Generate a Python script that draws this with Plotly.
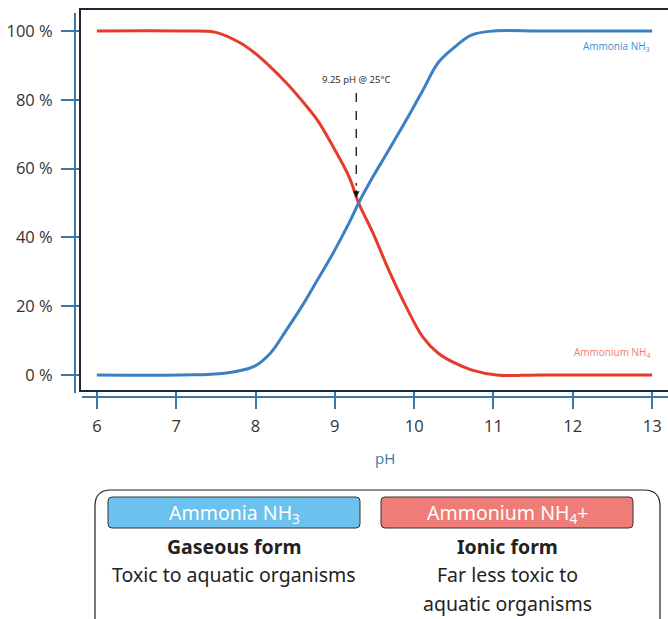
import plotly.graph_objects as go

# ---- data ----
ph_ammonia = [6.0, 7.05, 7.61, 7.99, 8.19, 8.39, 8.58, 8.78, 8.98, 9.18, 9.30, 9.48, 9.68, 9.90, 10.11, 10.30, 10.51, 10.72, 11.0, 11.6, 13.0]
ammonia_pct = [0.0, 0.0, 0.5, 2.6, 6.4, 13.1, 19.8, 27.6, 35.5, 44.2, 50.0, 57.6, 65.4, 74.1, 82.8, 90.7, 95.3, 98.8, 100.0, 100.0, 100.0]

ph_ammonium = [6.0, 7.05, 7.5, 7.81, 7.99, 8.19, 8.39, 8.58, 8.78, 8.98, 9.18, 9.30, 9.48, 9.68, 9.90, 10.11, 10.30, 10.51, 10.72, 11.04, 11.6, 13.0]
ammonium_pct = [100.0, 100.0, 99.6, 96.5, 93.6, 89.5, 84.9, 79.9, 74.1, 66.3, 57.6, 50.0, 41.3, 30.5, 19.8, 11.0, 6.4, 3.5, 1.5, 0.0, 0.0, 0.0]

x_ticks = [6, 7, 8, 9, 10, 11, 12, 13]
y_ticks = [0, 20, 40, 60, 80, 100]
y_tick_labels = ["0 %", "20 %", "40 %", "60 %", "80 %", "100 %"]
pka_ph = 9.27
pka_label = "9.25 pH @ 25°C"

# ---- layout helpers (pixel -> paper) ----
W, H = 668, 619
L, R, T, B = 81, 0, 10, 229
PW = W - L - R
PH = H - T - B


def px(x):
    return (x - L) / PW


def py(y):
    return (H - B - y) / PH


def rrect(x0, y0, x1, y1, r):
    rx, ry = r / PW, r / PH
    X0, X1 = px(x0), px(x1)
    Y0, Y1 = py(y0), py(y1)  # Y0 top (larger), Y1 bottom
    return (f"M {X0+rx},{Y0} L {X1-rx},{Y0} Q {X1},{Y0} {X1},{Y0-ry} "
            f"L {X1},{Y1+ry} Q {X1},{Y1} {X1-rx},{Y1} "
            f"L {X0+rx},{Y1} Q {X0},{Y1} {X0},{Y1+ry} "
            f"L {X0},{Y0-ry} Q {X0},{Y0} {X0+rx},{Y0} Z")


BLUE = "#3a80c2"
RED = "#e63b2a"
STEEL = "#3b78a6"
FRAME = "#1d2a36"
FONT_BOX = "Noto Sans"

fig = go.Figure()
fig.add_trace(go.Scatter(x=ph_ammonium, y=ammonium_pct, mode="lines",
                         line=dict(color=RED, width=3, shape="spline", smoothing=1.0),
                         hoverinfo="skip", showlegend=False))
fig.add_trace(go.Scatter(x=ph_ammonia, y=ammonia_pct, mode="lines",
                         line=dict(color=BLUE, width=3, shape="spline", smoothing=1.0),
                         hoverinfo="skip", showlegend=False))

shapes = [
    # offset axis lines
    dict(type="line", xref="paper", yref="paper", x0=px(82), x1=1.0, y0=py(397), y1=py(397),
         line=dict(color=STEEL, width=2)),
    dict(type="line", xref="paper", yref="paper", x0=px(75), x1=px(75), y0=py(393), y1=py(13),
         line=dict(color=STEEL, width=2)),
    # dashed pointer
    dict(type="line", xref="x", yref="y", x0=pka_ph, x1=pka_ph, y0=82, y1=55,
         line=dict(color="#111111", width=1.3, dash="dash")),
    # info box
    dict(type="path", xref="paper", yref="paper", path=rrect(95, 490, 660, 640, 16),
         line=dict(color="#222222", width=1.2), fillcolor="rgba(0,0,0,0)"),
    dict(type="path", xref="paper", yref="paper", path=rrect(108, 497, 360, 528, 4),
         line=dict(color="#333333", width=1), fillcolor="#6cc2ee"),
    dict(type="path", xref="paper", yref="paper", path=rrect(381, 497, 633, 528, 4),
         line=dict(color="#333333", width=1), fillcolor="#f07c78"),
]


def box_text(x, y, text, size=19.5, color="#222222"):
    return dict(x=px(x), y=py(y), xref="paper", yref="paper", text=text, showarrow=False,
                xanchor="center", yanchor="middle",
                font=dict(size=size, color=color, family=FONT_BOX))


ann = [
    dict(x=pka_ph, y=86, xref="x", yref="y", text=pka_label, showarrow=False,
         xanchor="center", yanchor="middle",
         font=dict(size=9.5, color="#222222"), bgcolor="white"),
    dict(x=pka_ph, y=51.5, xref="x", yref="y", text="", showarrow=True, ax=0, ay=-9,
         arrowhead=2, arrowsize=1, arrowwidth=1.3, arrowcolor="#111111"),
    dict(x=13.0, y=95.6, xref="x", yref="y", text="Ammonia NH<sub>3</sub>", showarrow=False,
         xanchor="right", yanchor="middle", font=dict(size=10, color="#3b8fd0")),
    dict(x=13.0, y=6.4, xref="x", yref="y", text="Ammonium NH<sub>4</sub>", showarrow=False,
         xanchor="right", yanchor="middle", font=dict(size=10, color="#f2796c")),
    dict(x=px(385), y=py(458), xref="paper", yref="paper", text="pH", showarrow=False,
         xanchor="center", yanchor="middle", font=dict(size=15, color=STEEL)),
    box_text(234, 513, "Ammonia NH<sub>3</sub>", color="white"),
    box_text(507, 513, "Ammonium NH<sub>4</sub>+", color="white"),
    box_text(234, 546, "<b>Gaseous form</b>"),
    box_text(234, 574, "Toxic to aquatic organisms"),
    box_text(507, 546, "<b>Ionic form</b>"),
    box_text(507, 574, "Far less toxic to"),
    box_text(507, 603, "aquatic organisms"),
]

fig.update_layout(
    width=W, height=H, autosize=False,
    margin=dict(l=L, r=R, t=T, b=B, autoexpand=False),
    paper_bgcolor="white", plot_bgcolor="white",
    font=dict(family="Open Sans", color="#333333"),
    shapes=shapes, annotations=ann, showlegend=False,
)
fig.update_xaxes(range=[5.8, 13.2], tickvals=x_ticks, showgrid=False, zeroline=False,
                 showline=True, linecolor=FRAME, linewidth=2, mirror=True, automargin=False,
                 ticks="outside", ticklen=17, tickwidth=2, tickcolor=STEEL,
                 tickfont=dict(size=16.5, color="#333333"), ticklabelstandoff=3)
fig.update_yaxes(range=[-4.36, 106.1], tickvals=y_ticks, ticktext=y_tick_labels, showgrid=False,
                 zeroline=False, showline=True, linecolor=FRAME, linewidth=2, automargin=False,
                 ticks="outside", ticklen=18, tickwidth=2, tickcolor=STEEL,
                 tickfont=dict(size=16.5, color="#333333"), ticklabelstandoff=5)

fig.write_html("out.html", config={"displayModeBar": False},
               post_script="document.body.style.margin='0px';document.body.style.overflow='hidden';")
